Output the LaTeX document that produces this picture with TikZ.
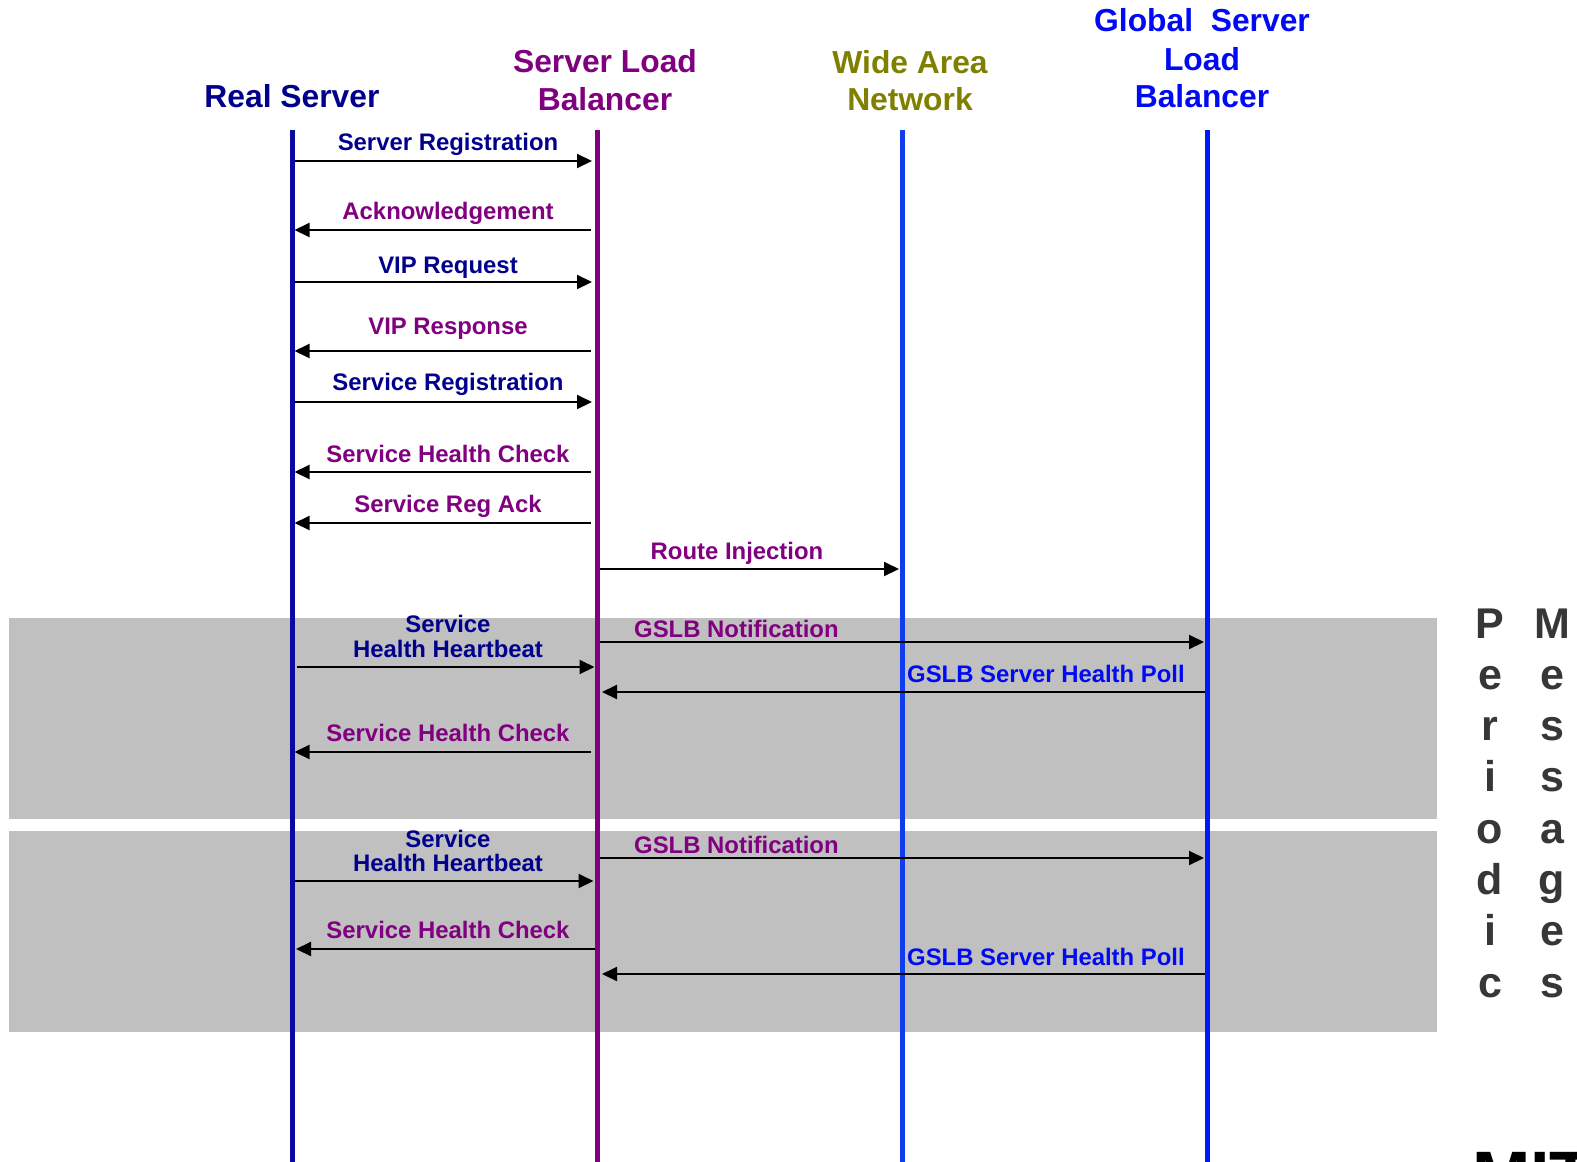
\documentclass[tikz,border=0pt]{standalone}
\usepackage{fontspec}
\setmainfont{Liberation Sans}
\usetikzlibrary{arrows.meta}
\definecolor{navy}{RGB}{0,0,140}
\definecolor{rsline}{RGB}{10,10,160}
\definecolor{slbpurple}{RGB}{128,0,128}
\definecolor{wanolive}{RGB}{128,128,0}
\definecolor{wanline}{RGB}{15,60,240}
\definecolor{gslbblue}{RGB}{0,10,245}
\definecolor{gslbline}{RGB}{0,25,250}
\definecolor{bandgray}{RGB}{192,192,192}
\definecolor{pgray}{RGB}{55,55,55}
\begin{document}
\begin{tikzpicture}[x=1pt,y=-1pt,
  lbl/.style={font=\bfseries\fontsize{23.9}{25}\selectfont, inner sep=0pt, anchor=base},
  lblw/.style={lbl, anchor=base west},
  hdr/.style={font=\bfseries\fontsize{31.8}{38}\selectfont, inner sep=0pt, anchor=base},
  per/.style={font=\bfseries\fontsize{43}{50}\selectfont, inner sep=0pt, anchor=base, text=pgray},
  msg/.style={draw=black, line width=2pt, -{Triangle[length=15pt,width=14pt]}},
  fromrs/.style={msg, shorten <=2.5pt, shorten >=5pt},
  tors/.style={msg, shorten <=6pt, shorten >=2.5pt},
  fromslb/.style={msg, shorten <=3pt, shorten >=3pt},
  life/.style={line width=5pt},
  band/.style={fill=bandgray, draw=none}]
\useasboundingbox (0,0) rectangle (1577,1162);
\clip (0,0) rectangle (1577,1162);
\fill[white] (0,0) rectangle (1577,1162);

% periodic bands
\fill[band] (9,618) rectangle (1437,819);
\fill[band] (9,831) rectangle (1437,1032);

% lifelines
\coordinate (RS) at (292,130);   \coordinate (RSb) at (292,1162);
\coordinate (SLB) at (597,130);  \coordinate (SLBb) at (597,1162);
\coordinate (WAN) at (902,130);  \coordinate (WANb) at (902,1162);
\coordinate (GS) at (1207,130);  \coordinate (GSb) at (1207,1162);
\draw[life, rsline] (RS) -- (RSb);
\draw[life, slbpurple] (SLB) -- (SLBb);
\draw[life, wanline] (WAN) -- (WANb);
\draw[life, gslbline] (GS) -- (GSb);

% headers
\node[hdr, text=navy] (hRS) at (292,107) {Real Server};
\node[hdr, text=slbpurple] (hSLB1) at (605,72) {Server Load};
\node[hdr, text=slbpurple] (hSLB2) at (605,110) {Balancer};
\node[hdr, text=wanolive] (hWAN1) at (910,73) {Wide Area};
\node[hdr, text=wanolive] (hWAN2) at (910,110) {Network};
\node[hdr, text=gslbblue] (hGS1) at (1202,31) {Global\ \ Server};
\node[hdr, text=gslbblue] (hGS2) at (1202,70) {Load};
\node[hdr, text=gslbblue] (hGS3) at (1202,107) {Balancer};

% messages
\draw[fromrs] (RS |- 0,161) -- (SLB |- 0,161);
\node[lbl, text=navy] (l1) at (448,150) {Server Registration};
\draw[tors] (SLB |- 0,230) -- (RS |- 0,230);
\node[lbl, text=slbpurple] (l2) at (448,219) {Acknowledgement};
\draw[fromrs] (RS |- 0,282) -- (SLB |- 0,282);
\node[lbl, text=navy] (l3) at (448,273) {VIP Request};
\draw[tors] (SLB |- 0,351) -- (RS |- 0,351);
\node[lbl, text=slbpurple] (l4) at (448,334) {VIP Response};
\draw[fromrs] (RS |- 0,402) -- (SLB |- 0,402);
\node[lbl, text=navy] (l5) at (448,390) {Service Registration};
\draw[tors] (SLB |- 0,472) -- (RS |- 0,472);
\node[lbl, text=slbpurple] (l6) at (448,462) {Service Health Check};
\draw[tors] (SLB |- 0,523) -- (RS |- 0,523);
\node[lbl, text=slbpurple] (l7) at (448,512) {Service Reg Ack};
\draw[fromslb] (SLB |- 0,569) -- (WAN |- 0,569);
\node[lbl, text=slbpurple] (l8) at (737,559) {Route Injection};

% band 1
\draw[fromrs, shorten <=5pt, shorten >=2.5pt] (RS |- 0,667) -- (SLB |- 0,667);
\node[lbl, text=navy] (l9a) at (448,632) {Service};
\node[lbl, text=navy] (l9b) at (448,657) {Health Heartbeat};
\draw[fromslb] (SLB |- 0,642) -- (GS |- 0,642);
\node[lblw, text=slbpurple] (l10) at (634,637) {GSLB Notification};
\draw[fromslb, shorten <=2.5pt, shorten >=5pt] (GS |- 0,692) -- (SLB |- 0,692);
\node[lblw, text=gslbblue] (l11) at (907,682) {GSLB Server Health Poll};
\draw[tors] (SLB |- 0,752) -- (RS |- 0,752);
\node[lbl, text=slbpurple] (l12) at (448,741) {Service Health Check};

% band 2
\draw[fromrs, shorten >=3.5pt] (RS |- 0,881) -- (SLB |- 0,881);
\node[lbl, text=navy] (l13a) at (448,847) {Service};
\node[lbl, text=navy] (l13b) at (448,871) {Health Heartbeat};
\draw[fromslb] (SLB |- 0,858) -- (GS |- 0,858);
\node[lblw, text=slbpurple] (l14) at (634,853) {GSLB Notification};
\draw[tors, shorten <=2.5pt, shorten >=4pt] (SLB |- 0,949) -- (RS |- 0,949);
\node[lbl, text=slbpurple] (l15) at (448,938) {Service Health Check};
\draw[fromslb, shorten <=2.5pt, shorten >=5pt] (GS |- 0,974) -- (SLB |- 0,974);
\node[lblw, text=gslbblue] (l16) at (907,965) {GSLB Server Health Poll};

% Periodic Messages
\foreach \c [count=\i from 0] in {P,e,r,i,o,d,i,c}
  \node[per] (p\i) at (1490,638+51.3*\i) {\c};
\foreach \c [count=\i from 0] in {M,e,s,s,a,g,e,s}
  \node[per] (m\i) at (1552,638+51.3*\i) {\c};

% cut-off logo text (cut by the picture's lower edge, as in the reference)
\node[font=\bfseries\fontsize{70}{70}\selectfont, inner sep=0pt, anchor=base west, text=black] (mit) at (1472,1200) {MIT};
\end{tikzpicture}
\end{document}
